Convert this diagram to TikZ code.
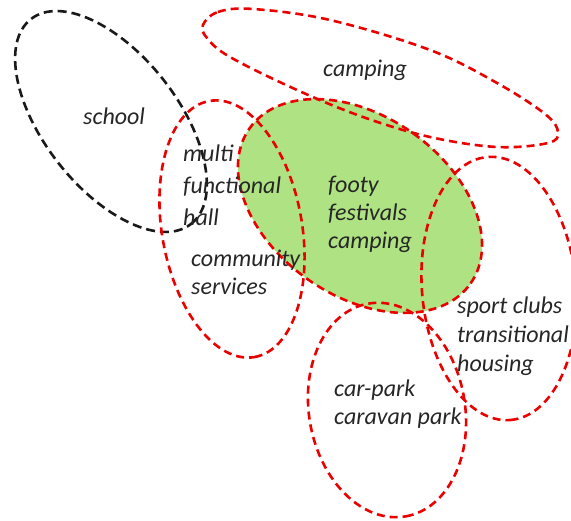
\documentclass[tikz,border=0pt]{standalone}
\usepackage{fontspec}
\setmainfont{Carlito}
\definecolor{lgreen}{RGB}{174,226,130}
\definecolor{dred}{RGB}{235,0,0}
\definecolor{txt}{RGB}{38,38,38}
\begin{document}
\begin{tikzpicture}[x=1pt,y=1pt,
  redline/.style={draw=dred,line width=2.6pt,dash pattern=on 8pt off 5pt},
  blackline/.style={draw=black!90,line width=2.6pt,dash pattern=on 9pt off 5pt},
  lbl/.style={font=\fontsize{24}{29}\selectfont\itshape,text=txt,align=left,anchor=base west,inner sep=0pt}]
\useasboundingbox (0,0) rectangle (571,-521);
% green fill
\fill[lgreen] (360,-206) ellipse[x radius=135,y radius=90,rotate=-35];
% outlines
\draw[blackline] (111,-121.5) ellipse[x radius=130,y radius=67,rotate=-52];
\draw[redline] plot[smooth cycle,tension=0.6] coordinates {(203,-25) (218,-12) (253,-9) (330,-20) (430,-50) (497,-83) (545,-114) (558,-132) (548,-143) (497,-147) (430,-137) (363,-117) (297,-90) (230,-57) (207,-38)};
\draw[redline] (232,-229) ellipse[x radius=130,y radius=70,rotate=-80];
\draw[redline] (360,-206) ellipse[x radius=135,y radius=90,rotate=-35];
\draw[redline] (499,-288.5) ellipse[x radius=132,y radius=77,rotate=-85];
\draw[redline] (387,-410) ellipse[x radius=108,y radius=78,rotate=-80];
% labels
\node[lbl] (school) at (83,-125) {school};
\node[lbl] (camptop) at (323,-77) {camping};
\node[lbl,font=\fontsize{24}{32}\selectfont\itshape] (hall) at (183,-226) {multi\\functional\\hall};
\node[lbl,font=\fontsize{24}{28}\selectfont\itshape] (footy) at (328,-249) {footy\\festivals\\camping};
\node[lbl,font=\fontsize{24}{28}\selectfont\itshape] (comm) at (191,-295) {community\\services};
\node[lbl] (sport) at (457,-372) {sport clubs\\transitional\\housing};
\node[lbl,font=\fontsize{24}{28}\selectfont\itshape] (car) at (334,-425) {car-park\\caravan park};
\end{tikzpicture}
\end{document}
